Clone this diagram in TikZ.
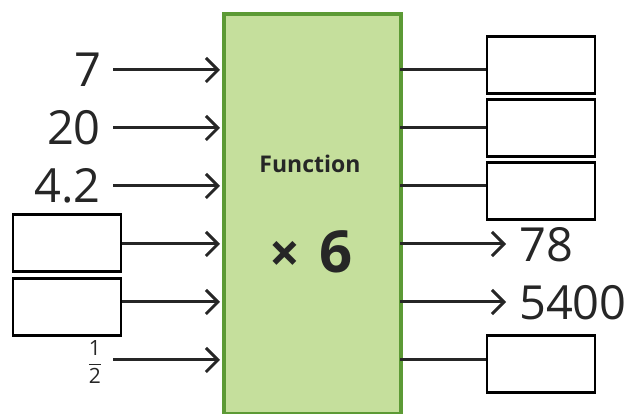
\documentclass[tikz,border=0pt]{standalone}
\usepackage{fontspec}
\setmainfont{Open Sans}
\usetikzlibrary{arrows.meta}
\definecolor{ink}{HTML}{262626}
\definecolor{gfill}{HTML}{C5DF9C}
\definecolor{gline}{HTML}{5C9A35}
\begin{document}
\begin{tikzpicture}[x=1pt,y=-1pt,
  conn/.style={draw=ink,line width=3pt},
  arr/.style={conn,-{Straight Barb[length=12pt,width=24pt,line width=3pt]}},
  ansbox/.style={draw=black,line width=2.8pt,fill=white,minimum width=108pt,minimum height=57pt,inner sep=0pt},
  num/.style={text=ink,font=\fontsize{47}{47}\selectfont,inner sep=0pt}]
\useasboundingbox (0,0) rectangle (633,414);
% function box
\node[draw=gline,fill=gfill,line width=4pt,minimum width=177pt,minimum height=400pt,inner sep=0pt,anchor=north west] (fn) at (222,12) {};
\node[text=ink,font=\bfseries\fontsize{23}{23}\selectfont] (ftitle) at (310,164) {Function};
\node[text=ink,font=\bfseries\fontsize{58}{58}\selectfont] (op) at (311,252) {{\fontsize{54}{54}\selectfont×}\hspace{20pt}6};
% left inputs
\node[num,anchor=east] (i1) at (102,70) {7};
\node[num,anchor=east] (i2) at (101,128) {20};
\node[num,anchor=east] (i3) at (101,186) {4.2};
\node[ansbox] (i4) at (67,243) {};
\node[ansbox] (i5) at (67,307) {};
\node[text=ink,font=\fontsize{21}{21}\selectfont,inner sep=0pt] (i6) at (95,362) {$\displaystyle\frac{\hbox{1}}{\hbox{2}}$};
\coordinate (a1) at (220,70);
\coordinate (a2) at (220,128);
\coordinate (a3) at (220,186);
\coordinate (a4) at (220,244);
\coordinate (a5) at (220,302);
\coordinate (a6) at (220,360);
\draw[arr] (113,70) -- (a1);
\draw[arr] (113,128) -- (a2);
\draw[arr] (113,186) -- (a3);
\draw[arr] (i4.east |- a4) -- (a4);
\draw[arr] (i5.east |- a5) -- (a5);
\draw[arr] (113,360) -- (a6);
% right outputs
\node[ansbox] (o1) at (541,65) {};
\node[ansbox] (o2) at (541,128) {};
\node[ansbox] (o3) at (541,191) {};
\node[num,anchor=west] (o4) at (519,245) {78};
\node[num,anchor=west] (o5) at (519,303) {5400};
\node[ansbox] (o6) at (541,364) {};
\coordinate (b1) at (400,70);
\coordinate (b2) at (400,128);
\coordinate (b3) at (400,186);
\coordinate (b4) at (400,244);
\coordinate (b5) at (400,302);
\coordinate (b6) at (400,360);
\draw[conn] (b1) -- (o1.west |- b1);
\draw[conn] (b2) -- (o2.west |- b2);
\draw[conn] (b3) -- (o3.west |- b3);
\draw[arr] (b4) -- (506,244);
\draw[arr] (b5) -- (506,302);
\draw[conn] (b6) -- (o6.west |- b6);
\end{tikzpicture}
\end{document}
